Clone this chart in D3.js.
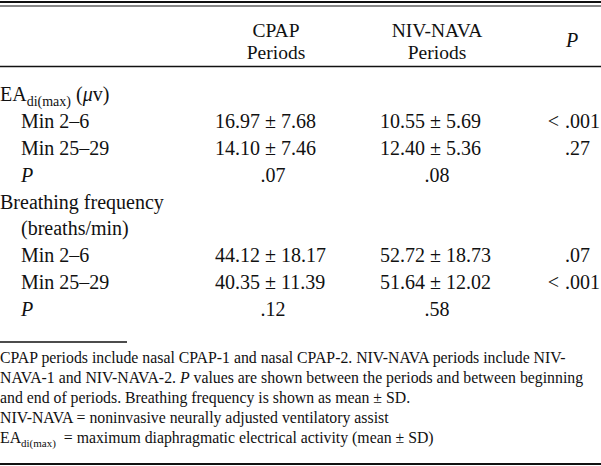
<!DOCTYPE html>
<html>
<head>
<meta charset="utf-8">
<script src="https://cdn.jsdelivr.net/npm/d3@7"></script>
<style>
  html, body { margin: 0; padding: 0; background: #fff; }
  svg { display: block; font-family: "Liberation Serif", "Times New Roman", serif; }
</style>
</head>
<body>
<svg id="chart" width="601" height="466"></svg>
<script>
// ---- data ----
const columnHeaders = [["CPAP", "Periods"], ["NIV-NAVA", "Periods"]];
const groupNames = ["EA", "Breathing frequency"];
const groupUnits = ["(μv)", "(breaths/min)"];
const timeLabels = ["Min 2–6", "Min 25–29"];
const cpapMean = [[16.97, 14.10], [44.12, 40.35]];
const cpapSD   = [[7.68, 7.46], [18.17, 11.39]];
const nivMean  = [[10.55, 12.40], [52.72, 51.64]];
const nivSD    = [[5.69, 5.36], [18.73, 12.02]];
const betweenP = [["< .001", ".27"], [".07", "< .001"]];   // CPAP vs NIV-NAVA
const withinP  = [[".07", ".08"], [".12", ".58"]];         // beginning vs end
const footnotes = [
  "CPAP periods include nasal CPAP-1 and nasal CPAP-2. NIV-NAVA periods include NIV-",
  "NAVA-1 and NIV-NAVA-2. |P| values are shown between the periods and between beginning",
  "and end of periods. Breathing frequency is shown as mean ± SD.",
  "NIV-NAVA = noninvasive neurally adjusted ventilatory assist",
  "EA_di(max)_  = maximum diaphragmatic electrical activity (mean ± SD)"
];

// ---- layout ----
const W = 601, H = 466;
const ink = "#111";
const svg = d3.select("#chart");
const fmt = d3.format(".2f");

// rows: build row list
const rows = [];
groupNames.forEach((g, gi) => {
  rows.push({type: "group", gi});
  if (gi === 1) rows.push({type: "unit", gi});
  timeLabels.forEach((t, ti) => rows.push({type: "data", gi, ti}));
  rows.push({type: "p", gi});
});
const y = d3.scaleLinear().domain([0, rows.length - 1]).range([101, 316]);
const colStart = d3.scaleOrdinal().domain(["cpap", "niv"]).range([215, 380]);
const colCenter = d3.scaleOrdinal().domain(["cpap", "niv", "p"]).range([276, 437, 572]);
const pDecimalX = 565;

// rules
const rules = [
  {x1: 0, x2: W, y: 2, w: 2.2},
  {x1: 0, x2: W, y: 6, w: 1.2},
  {x1: 0, x2: W, y: 66.5, w: 1.5},
  {x1: 0, x2: 127, y: 342, w: 1.5},
  {x1: 0, x2: W, y: 464, w: 2.2}
];
svg.selectAll("line.rule").data(rules).join("line")
  .attr("class", "rule")
  .attr("x1", d => d.x1).attr("x2", d => d.x2)
  .attr("y1", d => d.y).attr("y2", d => d.y)
  .attr("stroke", ink).attr("stroke-width", d => d.w);

// header
const hdr = svg.append("g").attr("font-size", 19.5).attr("fill", ink);
columnHeaders.forEach((lines, i) => {
  const key = i === 0 ? "cpap" : "niv";
  hdr.append("text").attr("x", colCenter(key)).attr("y", 37).attr("text-anchor", "middle").text(lines[0]);
  hdr.append("text").attr("x", colCenter(key)).attr("y", 58.7).attr("text-anchor", "middle").text(lines[1]);
});
hdr.append("text").attr("x", colCenter("p")).attr("y", 47).attr("text-anchor", "middle")
  .attr("font-size", 20).attr("font-style", "italic").text("P");

// body
const body = svg.append("g").attr("font-size", 20).attr("fill", ink);
rows.forEach((r, i) => {
  const yy = y(i);
  if (r.type === "group") {
    const t = body.append("text").attr("x", 0).attr("y", yy);
    if (r.gi === 0) {
      t.append("tspan").text(groupNames[0]);
      t.append("tspan").attr("font-size", 14).attr("dy", 5).text("di(max)");
      t.append("tspan").attr("dy", -5).text(" (");
      t.append("tspan").attr("font-style", "italic").text("μ");
      t.append("tspan").text("v)");
    } else {
      t.text(groupNames[r.gi]);
    }
  } else if (r.type === "unit") {
    body.append("text").attr("x", 21).attr("y", yy).text(groupUnits[r.gi]);
  } else if (r.type === "data") {
    body.append("text").attr("x", 21).attr("y", yy).text(timeLabels[r.ti]);
    body.append("text").attr("x", colStart("cpap")).attr("y", yy)
      .text(fmt(cpapMean[r.gi][r.ti]) + " ± " + fmt(cpapSD[r.gi][r.ti]));
    body.append("text").attr("x", colStart("niv")).attr("y", yy)
      .text(fmt(nivMean[r.gi][r.ti]) + " ± " + fmt(nivSD[r.gi][r.ti]));
    const pv = betweenP[r.gi][r.ti];
    const parts = pv.split(" ");
    if (parts.length > 1) {
      body.append("text").attr("x", pDecimalX - 6).attr("y", yy).attr("text-anchor", "end").text(parts[0]);
    }
    body.append("text").attr("x", pDecimalX).attr("y", yy).text(parts[parts.length - 1]);
  } else if (r.type === "p") {
    body.append("text").attr("x", 21).attr("y", yy).attr("font-style", "italic").text("P");
    body.append("text").attr("x", colCenter("cpap") - 3).attr("y", yy).attr("text-anchor", "middle").text(withinP[r.gi][0]);
    body.append("text").attr("x", colCenter("niv")).attr("y", yy).attr("text-anchor", "middle").text(withinP[r.gi][1]);
  }
});

// footnotes
const fy = d3.scaleLinear().domain([0, footnotes.length - 1]).range([363, 443]);
const foot = svg.append("g").attr("font-size", 15.8).attr("fill", ink);
footnotes.forEach((line, i) => {
  const t = foot.append("text").attr("x", 0).attr("y", fy(i));
  if (line.includes("|")) {
    const [a, b, c] = line.split("|");
    t.append("tspan").text(a);
    t.append("tspan").attr("font-style", "italic").text(b);
    t.append("tspan").text(c);
  } else if (line.includes("_")) {
    const [a, b, c] = line.split("_");
    t.append("tspan").text(a);
    t.append("tspan").attr("font-size", 11).attr("dy", 4).text(b);
    t.append("tspan").attr("dy", -4).attr("xml:space", "preserve").style("white-space", "pre").text(c);
  } else {
    t.text(line);
  }
});
</script>
</body>
</html>
